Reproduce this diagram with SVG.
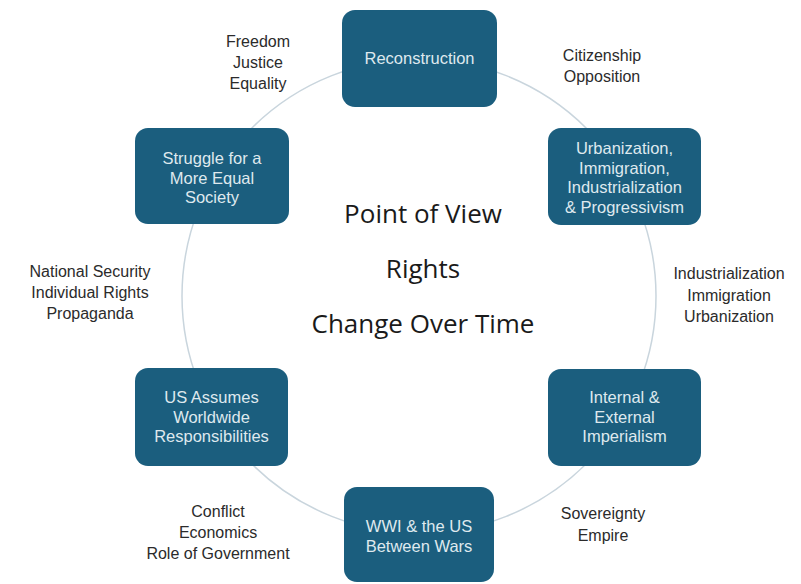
<svg xmlns="http://www.w3.org/2000/svg" width="801" height="584" viewBox="0 0 801 584">
<style>
.node rect{fill:#1b5e7e;stroke:none}
.nt{font-family:"Liberation Sans",Arial,sans-serif;font-size:16.5px;fill:#dfe9ee;text-anchor:middle}
.lb{font-family:"Liberation Sans",Arial,sans-serif;font-size:16px;fill:#2b2b2b;text-anchor:middle}
.ct{font-family:"Open Sans","Liberation Sans",sans-serif;font-size:26px;fill:#1a1a1a;text-anchor:middle}
</style>
<rect width="801" height="584" fill="#ffffff"/>
<g id="connectors">
<circle cx="419" cy="296" r="237" fill="none" stroke="#c9d5dd" stroke-width="1.5"/>
</g>
<g id="n-reconstruction" class="node">
<rect x="342" y="10" width="155" height="97" rx="13"/>
<text class="nt" x="419.5" y="64">Reconstruction</text>
</g>
<g id="n-urbanization" class="node">
<rect x="548" y="128" width="153" height="97" rx="13"/>
<text class="nt" x="624.5" y="154">Urbanization,</text>
<text class="nt" x="624.5" y="173.5">Immigration,</text>
<text class="nt" x="624.5" y="193">Industrialization</text>
<text class="nt" x="624.5" y="212.5">&amp;  Progressivism</text>
</g>
<g id="n-imperialism" class="node">
<rect x="548" y="369" width="153" height="97" rx="13"/>
<text class="nt" x="624.5" y="403">Internal &amp;</text>
<text class="nt" x="624.5" y="422.5">External</text>
<text class="nt" x="624.5" y="442">Imperialism</text>
</g>
<g id="n-wwi" class="node">
<rect x="344" y="487" width="150" height="95" rx="13"/>
<text class="nt" x="419" y="532">WWI &amp; the US</text>
<text class="nt" x="419" y="552">Between Wars</text>
</g>
<g id="n-usassumes" class="node">
<rect x="135" y="368" width="153" height="98" rx="13"/>
<text class="nt" x="211.5" y="403">US Assumes</text>
<text class="nt" x="211.5" y="422.5">Worldwide</text>
<text class="nt" x="211.5" y="442">Responsibilities</text>
</g>
<g id="n-struggle" class="node">
<rect x="135" y="128" width="154" height="96" rx="13"/>
<text class="nt" x="212" y="164">Struggle for a</text>
<text class="nt" x="212" y="183.5">More Equal</text>
<text class="nt" x="212" y="203">Society</text>
</g>
<g id="labels">
<text class="lb" x="258" y="47">Freedom</text>
<text class="lb" x="258" y="68">Justice</text>
<text class="lb" x="258" y="89">Equality</text>
<text class="lb" x="602" y="61">Citizenship</text>
<text class="lb" x="602" y="82">Opposition</text>
<text class="lb" x="729" y="279">Industrialization</text>
<text class="lb" x="729" y="301">Immigration</text>
<text class="lb" x="729" y="322">Urbanization</text>
<text class="lb" x="603" y="519">Sovereignty</text>
<text class="lb" x="603" y="541">Empire</text>
<text class="lb" x="218" y="517">Conflict</text>
<text class="lb" x="218" y="538">Economics</text>
<text class="lb" x="218" y="559">Role of Government</text>
<text class="lb" x="90" y="277">National Security</text>
<text class="lb" x="90" y="298">Individual Rights</text>
<text class="lb" x="90" y="319">Propaganda</text>
</g>
<g id="center">
<text class="ct" x="423" y="223">Point of View</text>
<text class="ct" x="423" y="278">Rights</text>
<text class="ct" x="423" y="333">Change Over Time</text>
</g>
</svg>
